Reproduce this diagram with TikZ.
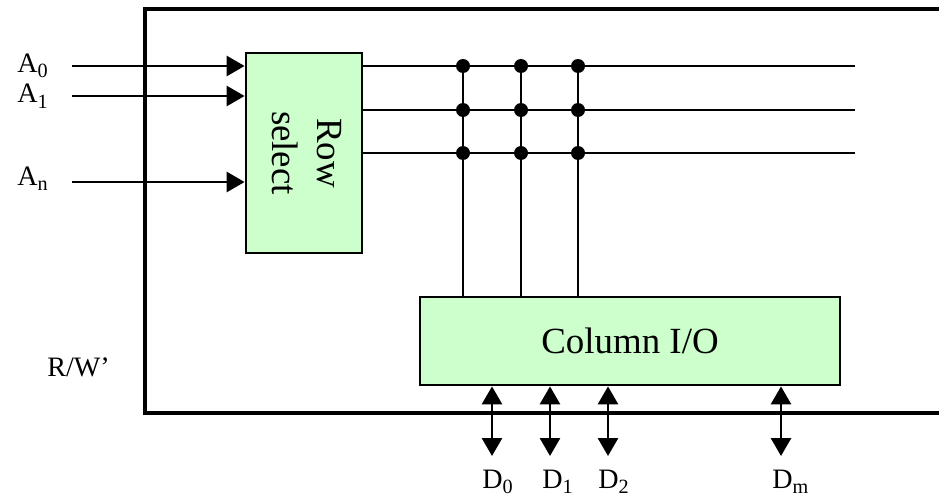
\documentclass[tikz,border=0pt]{standalone}
\usepackage{fontspec}
\setmainfont{Liberation Serif}
\usepackage{graphicx}
\usetikzlibrary{arrows.meta}
\definecolor{blkgreen}{HTML}{CCFFCC}
\newcommand{\idx}[1]{\raisebox{-0.45ex}{\fontsize{11.5}{12}\selectfont #1}}

\begin{document}
\begin{tikzpicture}[x=0.02cm,y=-0.02cm,
	>={Triangle[length=0.36cm,width=0.4cm]},
	blk/.style={draw,line width=1.6pt,fill=blkgreen,inner sep=0pt,font=\fontsize{21}{26}\selectfont},
	lbl/.style={inner sep=0pt,anchor=base west,font=\fontsize{16}{18}\selectfont},
	wire/.style={line width=1.6pt}]
	\useasboundingbox (0,0) rectangle (939,500);
	% frame (open to the right)
	\draw[line width=1.8pt] (939,9) -- (145,9) -- (145,413) -- (939,413);
	% blocks
	\node[blk,minimum width=2.32cm,minimum height=4cm] (RS) at (304,153)
	     {\rotatebox{-90}{\begin{tabular}{@{}c@{}}Row\\select\end{tabular}}};
	\node[blk,minimum width=8.4cm,minimum height=1.76cm] (CIO) at (630,341) {Column I/O};
	% labels
	\node[lbl] (A0) at (17,72) {A\idx{0}};
	\node[lbl] (A1) at (17,103) {A\idx{1}};
	\node[lbl] (An) at (17,185) {A\idx{n}};
	\node[lbl] (RW) at (47,376) {R/W’};
	\node[lbl] (D0) at (482,488) {D\idx{0}};
	\node[lbl] (D1) at (542,488) {D\idx{1}};
	\node[lbl] (D2) at (598,488) {D\idx{2}};
	\node[lbl] (Dm) at (772,488) {D\idx{m}};
	% free ends
	\coordinate (i0) at (72,66);
	\coordinate (i1) at (72,96);
	\coordinate (in) at (72,182);
	\coordinate (r0) at (855,66);
	\coordinate (r1) at (855,110);
	\coordinate (r2) at (855,153);
	\coordinate (c0) at (463,66);
	\coordinate (c1) at (521,66);
	\coordinate (c2) at (578,66);
	\coordinate (d0) at (492,456);
	\coordinate (d1) at (550,456);
	\coordinate (d2) at (608,456);
	\coordinate (dm) at (781,456);
	% address inputs
	\path[->,wire]
	     (i0) edge (i0 -| RS.west)
	     (i1) edge (i1 -| RS.west)
	     (in) edge (in -| RS.west);
	% rows and columns
	\path[-,wire]
	     (RS.east |- r0) edge (r0)  (RS.east |- r1) edge (r1)
	     (RS.east |- r2) edge (r2)
	     (c0) edge (c0 |- CIO.north)  (c1) edge (c1 |- CIO.north)
	     (c2) edge (c2 |- CIO.north);
	\fill (c0) circle (0.14cm) (c0 |- r1) circle (0.14cm) (c0 |- r2) circle (0.14cm)
	      (c1) circle (0.14cm) (c1 |- r1) circle (0.14cm) (c1 |- r2) circle (0.14cm)
	      (c2) circle (0.14cm) (c2 |- r1) circle (0.14cm) (c2 |- r2) circle (0.14cm);
	% data lines
	\path[<->,wire]
	     (d0 |- CIO.south) edge (d0)  (d1 |- CIO.south) edge (d1)
	     (d2 |- CIO.south) edge (d2)  (dm |- CIO.south) edge (dm);
\end{tikzpicture}
\end{document}
